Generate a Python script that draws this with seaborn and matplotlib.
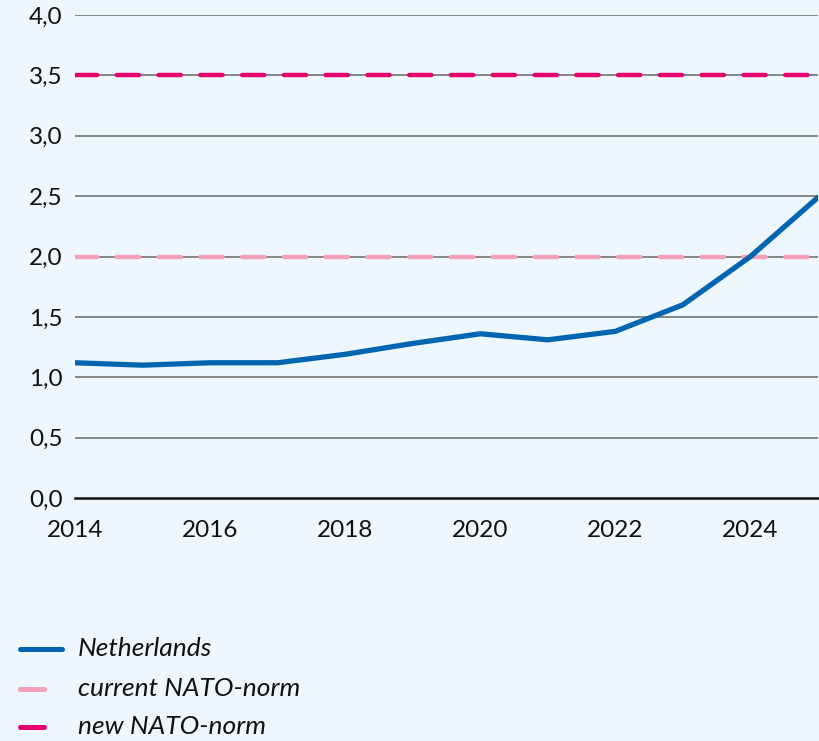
import numpy as np
import pandas as pd
import matplotlib
matplotlib.use("Agg")
import matplotlib.pyplot as plt
import seaborn as sns
from matplotlib.lines import Line2D
from matplotlib.ticker import FuncFormatter, MultipleLocator

years = [2014, 2015, 2016, 2017, 2018, 2019, 2020, 2021, 2022, 2023, 2024, 2025]
netherlands = [1.12, 1.10, 1.12, 1.12, 1.19, 1.28, 1.36, 1.31, 1.38, 1.60, 2.00, 2.49]
nato_current = 2.0
nato_new = 3.5
series_labels = ["Netherlands", "current NATO-norm", "new NATO-norm"]
x_ticks = [2014, 2016, 2018, 2020, 2022, 2024]
y_ticks = [0.0, 0.5, 1.0, 1.5, 2.0, 2.5, 3.0, 3.5, 4.0]

BG = "#EEF7FE"
BLUE = "#0065B0"
PINK = "#F5A0B8"
MAGENTA = "#E5006D"

sns.set_style("white")
plt.rcParams["font.family"] = ["Lato", "DejaVu Sans"]

fig = plt.figure(figsize=(8.2, 7.41), dpi=100, facecolor=BG)
ax = fig.add_axes([75 / 820, 1 - 498 / 741, 743 / 820, 483 / 741])
ax.set_facecolor(BG)

df = pd.DataFrame({"year": years, "value": netherlands})

for yv in y_ticks[1:]:
    ax.axhline(yv, color="#7d7d7d", lw=1.3, zorder=1)

ax.axhline(nato_current, color=PINK, lw=3.2, dashes=(5, 4.4),
           dash_capstyle="round", zorder=2)
ax.axhline(nato_new, color=MAGENTA, lw=3.2, dashes=(5, 4.4),
           dash_capstyle="round", zorder=2)

sns.lineplot(data=df, x="year", y="value", ax=ax, color=BLUE, lw=3.8,
             solid_capstyle="round", zorder=3, legend=False)

ax.set_xlim(2014, 2025)
ax.set_ylim(0, 4)
ax.set_xlabel("")
ax.set_ylabel("")
ax.set_yticks(y_ticks)
ax.yaxis.set_major_formatter(FuncFormatter(lambda v, p: f"{v:.1f}".replace(".", ",")))
ax.set_xticks(x_ticks)
ax.xaxis.set_minor_locator(MultipleLocator(1))
ax.tick_params(axis="y", length=0, pad=9, labelsize=17.5, colors="#111111")
ax.tick_params(axis="x", which="both", length=11, width=1, color="#555555",
               direction="out", pad=5, labelsize=17.5, labelcolor="#111111")
for s in ["top", "right", "left"]:
    ax.spines[s].set_visible(False)
ax.spines["bottom"].set_color("#111111")
ax.spines["bottom"].set_linewidth(1.8)

# legend
rows = [649, 689, 727]
colors = [BLUE, PINK, MAGENTA]
lengths = [42, 24, 24]
for lab, c, r, L in zip(series_labels, colors, rows, lengths):
    yf = 1 - r / 741
    fig.add_artist(Line2D([20 / 820, (20 + L) / 820], [yf, yf], color=c,
                          lw=3.6, solid_capstyle="round", transform=fig.transFigure))
    fig.text(78 / 820, yf, lab, fontsize=19, style="italic", va="center",
             ha="left", color="#111111")

fig.savefig("out.png", dpi=100, facecolor=BG)
